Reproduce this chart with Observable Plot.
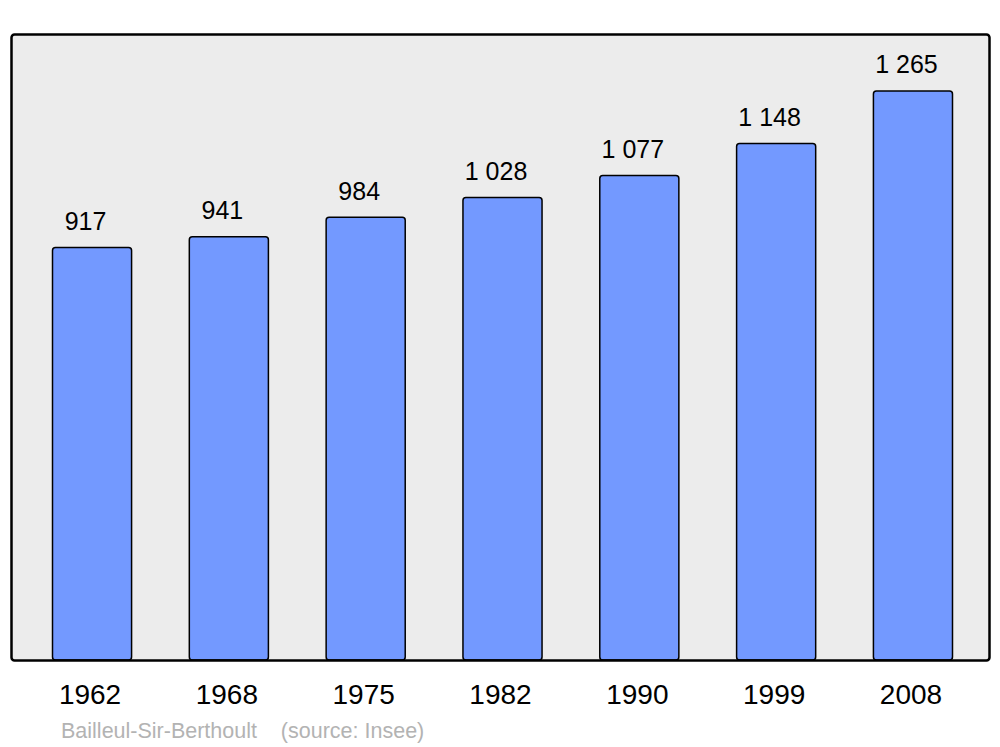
<!DOCTYPE html>
<html>
<head>
<meta charset="utf-8">
<script src="https://cdn.jsdelivr.net/npm/d3@7"></script>
<script src="https://cdn.jsdelivr.net/npm/@observablehq/plot@0.6"></script>
<style>
  html, body { margin: 0; padding: 0; background: #ffffff; }
  #chart svg { display: block; font-family: "Liberation Sans", Arial, sans-serif; }
  #caption { font-family: "Liberation Sans", Arial, sans-serif; font-size: 21.5px; color: #b3b3b3; line-height: 30px; padding-left: 61px; white-space: pre; }
</style>
</head>
<body>
<div id="chart"></div>
<div id="caption"></div>
<script>
const years = ["1962", "1968", "1975", "1982", "1990", "1999", "2008"];
const population = [917, 941, 984, 1028, 1077, 1148, 1265];
const commune = "Bailleul-Sir-Berthoult";
const source = "(source: Insee)";

const data = years.map((y, i) => ({year: y, value: population[i]}));
const fmt = d3.formatLocale({decimal: ",", thousands: " ", grouping: [3], currency: ["", ""]}).format(",d");
const yMax = d3.max(population) * 1.1;

const chart = Plot.plot({
  width: 1000,
  height: 716,
  marginLeft: 11,
  marginRight: 11,
  marginTop: 34,
  marginBottom: 56,
  x: {domain: years, range: [52.5, 952.5], paddingInner: 0.422, paddingOuter: 0, round: false, axis: null},
  y: {domain: [0, yMax], axis: null},
  marks: [
    Plot.frame({fill: "#ececec", stroke: "none", rx: 3}),
    Plot.barY(data, {x: "year", y: "value", fill: "#7399ff", stroke: "#000", strokeWidth: 1.5, rx: 3}),
    Plot.frame({stroke: "#000", strokeWidth: 2.5, rx: 3}),
    Plot.text(data, {x: "year", y: "value", text: d => fmt(d.value), dy: -26, dx: -7, fontSize: 25, fill: "#000"}),
    Plot.text(data, {x: "year", y: () => 0, text: "year", dy: 35, dx: -2.5, fontSize: 28, fill: "#000"})
  ]
});
document.getElementById("chart").appendChild(chart);
document.getElementById("caption").textContent = commune + "    " + source;
</script>
</body>
</html>
